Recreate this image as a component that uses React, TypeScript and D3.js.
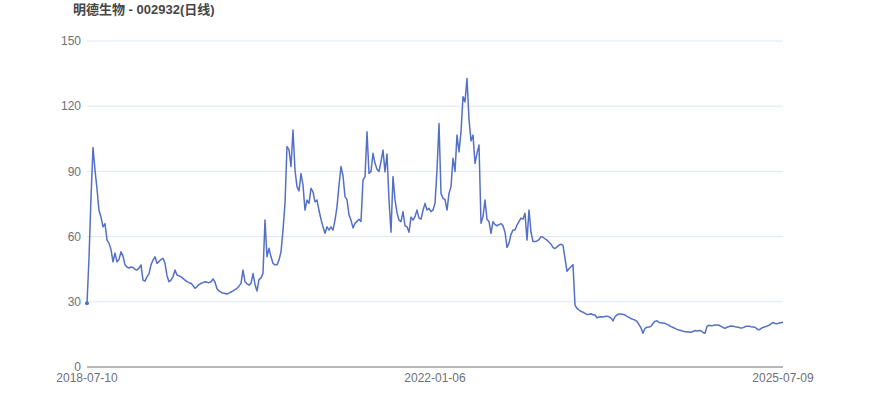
import * as d3 from 'd3'
import React from 'react'

const title = '明德生物 - 002932(日线)'

// daily close, sampled evenly from 2018-07-10 to 2025-07-09
const closes = [
  29.3, 50, 78, 101, 90.6, 82, 72, 69, 64.5, 66, 58.4, 57, 54, 48.4, 52.4, 48.4, 49.5, 53, 51, 47,
  46, 45.5, 46, 45.8, 45, 44.6, 45.5, 47, 40, 39.5, 41.5, 43, 47, 49.2, 50.7, 47.7, 48.5, 49.5, 50, 47.7,
  42, 39.2, 40, 41.5, 44.6, 42.3, 42, 41.5, 40.8, 40, 39.3, 38.8, 38.5, 37.5, 36.2, 37, 37.9, 38.5, 38.8, 39.2,
  39, 38.8, 39.2, 40.5, 39, 36, 35, 34.4, 34, 33.8, 33.6, 34, 34.5, 35, 35.6, 36.2, 37.2, 38.5, 44.6, 39.2,
  38.3, 37.7, 38.5, 43, 38, 35, 40.2, 41, 43.1, 67.6, 50.7, 54.6, 50.7, 47.7, 47, 47, 49.2, 53, 63, 75.3,
  101.4, 100, 92.2, 109, 90.6, 83, 81, 89, 83.7, 72.2, 76.8, 75.3, 82.2, 80.6, 76, 76.8, 72, 68, 64.5, 61.5,
  64.5, 63, 64.5, 63, 67.6, 73.7, 83.7, 92.2, 88, 78.4, 77, 70, 67.5, 64, 66.1, 67, 68, 67, 86, 87.6,
  108.2, 89, 90, 98.3, 93.7, 91, 90, 94.5, 99.8, 89.8, 98, 76.8, 62, 87.6, 77, 71, 67.6, 66.9, 71.5, 65,
  64.5, 62, 69, 67.6, 69.2, 72.2, 68.5, 68, 72, 75.3, 72.2, 73, 71.5, 72.2, 75.3, 90.6, 112, 79.9, 77.6, 77,
  72.2, 79.9, 83, 96, 90, 106.7, 99, 108.2, 124.4, 122, 132.8, 114, 104, 106.7, 93.7, 98.3, 102.1, 66.1, 69.2, 76.8,
  68, 67, 61.5, 66.9, 65.5, 65, 65.5, 66, 65, 62, 55, 57, 61, 63, 63, 65.3, 66.9, 68.5, 68, 70.7,
  58.4, 72.2, 62, 57.7, 57.7, 58, 58.6, 60, 59.7, 59, 58.4, 57.4, 56.5, 55, 54.5, 55.3, 56.1, 56.5, 56, 50,
  44, 45.2, 46.1, 47, 28.5, 27, 26.2, 25.6, 25.2, 24.7, 24.1, 24.3, 24.5, 24, 23.9, 22.6, 23, 23.1, 23, 23.2,
  23.4, 23.1, 22.5, 21.2, 23.1, 24, 24.4, 24.4, 24.2, 23.9, 23.3, 22.8, 22.3, 21.9, 21.6, 21, 19.5, 18, 15.5, 17.8,
  18.3, 18.4, 18.7, 20, 21, 21.3, 20.5, 20.4, 20.3, 20.1, 19.6, 19.2, 18.6, 18.2, 17.8, 17.3, 17, 16.8, 16.5, 16.2,
  16.2, 16.1, 16, 16.3, 16.8, 16.5, 16.8, 16.7, 15.9, 15.5, 18.7, 19.2, 19, 19.1, 19.3, 19.3, 19.2, 18.7, 18.2, 17.8,
  18.3, 18.6, 18.9, 18.8, 18.5, 18.4, 18.2, 17.9, 18.1, 18.5, 18.8, 18.8, 18.5, 18.4, 18.3, 17.5, 17.1, 17.7, 18.2, 18.5,
  18.8, 19.2, 19.8, 20.5, 20, 19.9, 20.2, 20.4, 20.6,
]

const dateLabels = ['2018-07-10', '2022-01-06', '2025-07-09']
const yTicks = [0, 30, 60, 90, 120, 150]

const W = 870, H = 417
const margin = { left: 87, right: 87, top: 41, bottom: 50 }
const font = '"Liberation Sans", Arial, "Noto Sans CJK SC", sans-serif'

export default function App() {
  const
    n = closes.length,
    x = d3.scaleLinear().domain([0, n - 1]).range([margin.left, W - margin.right]),
    y = d3.scaleLinear().domain([0, 150]).range([H - margin.bottom, margin.top]),
    ln = d3.line<number>().x((_, i) => x(i)).y(d => y(d)),
    labelIdx = [0, Math.floor((n - 1) / 2), n - 1]

  return (
    <svg width={W} height={H} style={{ position: 'absolute', left: 0, top: 0 }} fontFamily={font}>
      <text x={73} y={14} fontSize={13} fontWeight='bold' fill='#464646'>{title}</text>
      {yTicks.map(t => (
        <g key={t}>
          {t > 0 && <line x1={x(0)} x2={x(n - 1)} y1={y(t)} y2={y(t)} stroke='#E0E6F1' />}
          <text x={x(0) - 6} y={y(t)} dy='0.35em' textAnchor='end' fontSize={12} fill='#6E7079'>{t}</text>
        </g>
      ))}
      <line x1={x(0)} x2={x(n - 1)} y1={y(0)} y2={y(0)} stroke='#6E7079' />
      {dateLabels.map((l, i) => (
        <text key={l} x={x(labelIdx[i])} y={y(0) + 15} textAnchor='middle' fontSize={12} fill='#6E7079'>{l}</text>
      ))}
      <path d={ln(closes) as string} fill='none' stroke='#5470C6' strokeWidth={1.5} strokeLinejoin='round' />
      <circle cx={x(0)} cy={y(closes[0])} r={2} fill='#5470C6' />
    </svg>
  )
}
